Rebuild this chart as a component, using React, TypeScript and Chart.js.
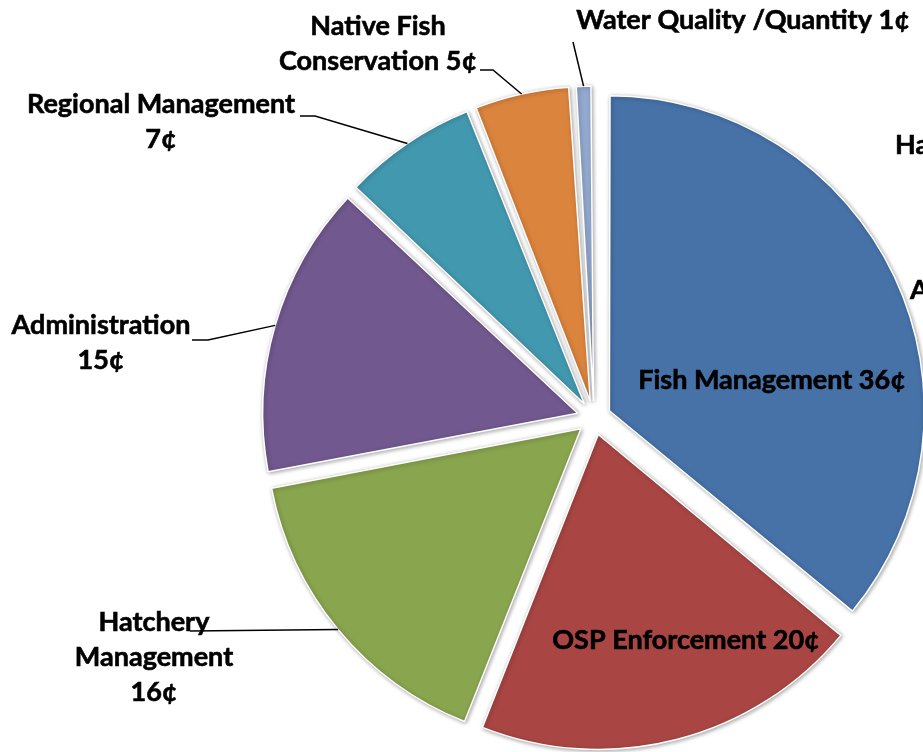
import React, { useEffect, useRef } from "react";
import { Chart, ArcElement, PieController } from "chart.js";

Chart.register(ArcElement, PieController);

// ---- data ----
const categories = [
  "Fish Management",
  "OSP Enforcement",
  "Hatchery Management",
  "Administration",
  "Regional Management",
  "Native Fish Conservation",
  "Water Quality /Quantity",
];
const values = [36, 20, 16, 15, 7, 5, 1];
const colors = ["#4672A8", "#A94644", "#89A54E", "#71588F", "#4298AF", "#DB843D", "#93A9CF"];
const clippedTexts = ["Ha", "A"]; // partial labels cut off at the right edge

// ---- layout ----
const VIEW_W = 923;
const VIEW_H = 752;
const CANVAS_W = 1188;
const CANVAS_H = 836;
const PIE_RADIUS = 315;
const EXPLODE = 68; // chart.js shifts each arc by offset / 4
const FONT_SIZE = 27;
const FONT = `bold ${FONT_SIZE}px Lato, "Open Sans", sans-serif`;
const LINE_H = 35;

type LabelLayout = { words: number[]; x: number; y: number; leader: number[][] | null };
const labelLayout: LabelLayout[] = [
  { words: [3], x: 772, y: 380, leader: null },
  { words: [3], x: 686, y: 640, leader: null },
  { words: [1, 1, 1], x: 154, y: 622, leader: [[190, 631]] },
  { words: [1, 1], x: 101, y: 325, leader: [[192, 340], [208, 340]] },
  { words: [2, 1], x: 161, y: 104, leader: [[300, 116], [315, 116]] },
  { words: [2, 2], x: 378, y: 26, leader: [[480, 70], [493, 70]] },
  { words: [4], x: 743, y: 20, leader: [[573, 42]] },
];
const clippedLayout = [
  { x: 895, y: 145 },
  { x: 910, y: 290 },
];

function splitLines(text: string, counts: number[]): string[] {
  const w = text.split(" ");
  const out: string[] = [];
  let i = 0;
  for (const c of counts) {
    out.push(w.slice(i, i + c).join(" "));
    i += c;
  }
  return out;
}

// keep every exploded slice at the same outer radius (chart.js enlarges thin slices)
const radiusFixPlugin = {
  id: "radiusFix",
  afterDatasetsUpdate(chart: any) {
    const meta = chart.getDatasetMeta(0);
    const shift = EXPLODE / 4;
    meta.data.forEach((arc: any) => {
      const c = arc.circumference;
      const fix = 1 - Math.sin(Math.min(Math.PI, c || 0));
      arc.outerRadius = PIE_RADIUS - shift * fix;
    });
  },
};

const shadowPlugin = {
  id: "sliceShadow",
  beforeDatasetsDraw(chart: any) {
    const ctx = chart.ctx;
    ctx.save();
    ctx.shadowColor = "rgba(0,0,0,0.35)";
    ctx.shadowBlur = 4;
    ctx.shadowOffsetX = 1;
    ctx.shadowOffsetY = 1;
  },
  afterDatasetsDraw(chart: any) {
    chart.ctx.restore();
  },
};

function boldText(ctx: CanvasRenderingContext2D, t: string, x: number, y: number) {
  ctx.fillText(t, x, y);
  ctx.lineWidth = 0.6;
  ctx.strokeText(t, x, y);
}

const labelPlugin = {
  id: "sliceLabels",
  afterDraw(chart: any) {
    const ctx = chart.ctx;
    const meta = chart.getDatasetMeta(0);
    ctx.save();
    ctx.font = FONT;
    ctx.fillStyle = "#000";
    ctx.strokeStyle = "#000";
    ctx.textAlign = "center";
    ctx.textBaseline = "middle";
    meta.data.forEach((arc: any, i: number) => {
      const lay = labelLayout[i];
      if (!lay) return;
      const p = arc.getProps(["x", "y", "startAngle", "endAngle"], true);
      const mid = (p.startAngle + p.endAngle) / 2;
      const shift = EXPLODE / 4;
      const ex = p.x + Math.cos(mid) * (shift + PIE_RADIUS);
      const ey = p.y + Math.sin(mid) * (shift + PIE_RADIUS);
      if (lay.leader) {
        ctx.lineWidth = 1.5;
        ctx.beginPath();
        ctx.moveTo(lay.leader[0][0], lay.leader[0][1]);
        for (let k = 1; k < lay.leader.length; k++) ctx.lineTo(lay.leader[k][0], lay.leader[k][1]);
        ctx.lineTo(ex, ey);
        ctx.stroke();
      }
      const text = `${categories[i]} ${values[i]}¢`;
      const lines = splitLines(text, lay.words);
      lines.forEach((ln, k) => boldText(ctx, ln, lay.x, lay.y + k * LINE_H));
    });
    ctx.textAlign = "left";
    clippedTexts.forEach((t, i) => boldText(ctx, t, clippedLayout[i].x, clippedLayout[i].y));
    ctx.restore();
  },
};

export default function App() {
  const ref = useRef<HTMLCanvasElement | null>(null);
  useEffect(() => {
    if (!ref.current) return;
    const chart = new Chart(ref.current, {
      type: "pie",
      data: {
        labels: categories,
        datasets: [
          {
            data: values,
            backgroundColor: colors,
            borderColor: "#ffffff",
            borderWidth: 1.5,
            offset: EXPLODE,
          },
        ],
      },
      options: {
        responsive: false,
        animation: false,
        devicePixelRatio: 1,
        radius: PIE_RADIUS,
        layout: { padding: 0 },
        events: [],
        plugins: { legend: { display: false }, tooltip: { enabled: false } },
      } as any,
      plugins: [radiusFixPlugin, shadowPlugin, labelPlugin],
    });
    return () => chart.destroy();
  }, []);
  return (
    <div
      style={{
        position: "absolute",
        left: 0,
        top: 0,
        width: VIEW_W,
        height: VIEW_H,
        overflow: "hidden",
        background: "#fff",
      }}
    >
      <canvas
        ref={ref}
        width={CANVAS_W}
        height={CANVAS_H}
        style={{ display: "block", width: CANVAS_W, height: CANVAS_H }}
      />
    </div>
  );
}
